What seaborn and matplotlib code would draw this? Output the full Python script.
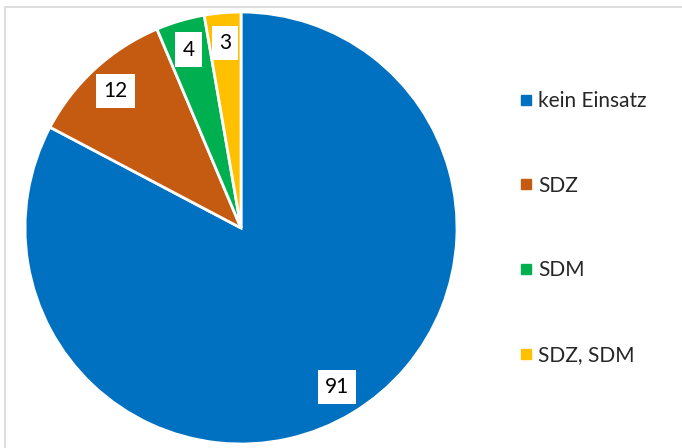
import matplotlib
matplotlib.use("Agg")
import matplotlib.pyplot as plt
import seaborn as sns
from matplotlib.lines import Line2D

sns.set_theme(style="white")
plt.rcParams['font.family'] = ['Lato', 'DejaVu Sans']

categories = ["kein Einsatz", "SDZ", "SDM", "SDZ, SDM"]
values = [91, 12, 4, 3]
colors = ["#0070C0", "#C55A11", "#00B050", "#FFC000"]

total = sum(values)

fig = plt.figure(figsize=(6.82, 4.48), dpi=100)
fig.patch.set_facecolor("white")
ax = fig.add_axes([0.0367, 0.0089, 0.6334, 0.9643])

wedges, texts, autotexts = ax.pie(
    values, colors=colors, startangle=90, counterclock=False,
    autopct=lambda p: f"{p * total / 100:.0f}", pctdistance=0.86,
    wedgeprops=dict(edgecolor="white", linewidth=2),
    textprops=dict(fontsize=15, color="black"),
)
for t in autotexts:
    t.set_bbox(dict(facecolor="white", edgecolor="none", boxstyle="square,pad=0.35"))
ax.set_xlim(-1, 1)
ax.set_ylim(-1, 1)
ax.set_aspect("equal")

handles = [Line2D([0], [0], marker="s", linestyle="none", markersize=7,
                  markerfacecolor=c, markeredgecolor=c) for c in colors]
fig.legend(handles, categories, loc="upper left", bbox_to_anchor=(0.745, 0.82),
           frameon=False, fontsize=15, labelspacing=3.1, handletextpad=0.25,
           handlelength=0.7, borderpad=0)

# thin gray frame (left and top edges)
fig.add_artist(Line2D([4.5 / 682, 4.5 / 682], [0, 1 - 7 / 448], transform=fig.transFigure,
                      color="#D9D9D9", linewidth=1.2))
fig.add_artist(Line2D([4.5 / 682, 1], [1 - 7 / 448, 1 - 7 / 448], transform=fig.transFigure,
                      color="#D9D9D9", linewidth=1.2))

fig.savefig("out.png", dpi=100, facecolor="white")
